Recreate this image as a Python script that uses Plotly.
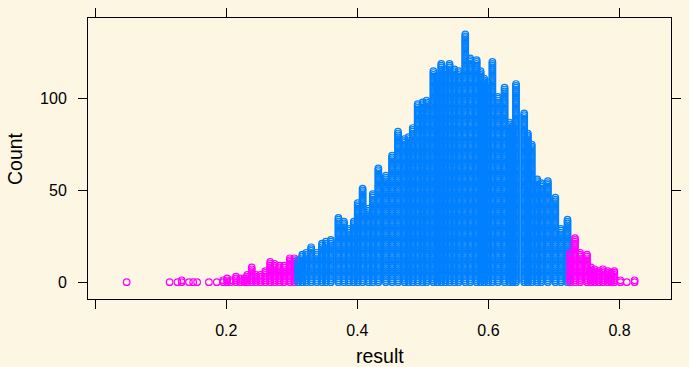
import plotly.graph_objects as go

# ---- data (distinct result values and their counts) ----
low_tail_values = [0.048, 0.1135, 0.1255, 0.132, 0.1431, 0.1495, 0.1555, 0.1735, 0.1855,
                   0.1953, 0.2013, 0.2065, 0.2148, 0.2215, 0.2275, 0.2320, 0.2388, 0.2451,
                   0.2520, 0.2595, 0.2670, 0.2736, 0.2811, 0.2880, 0.2970, 0.3040]
low_tail_counts = [1, 1, 1, 2, 1, 1, 1, 1, 1,
                   2, 3, 2, 4, 3, 3, 5, 9, 5,
                   5, 7, 12, 11, 10, 10, 14, 14]

middle_values = [0.3096, 0.3160, 0.3220, 0.3295, 0.3381, 0.3460, 0.3520, 0.3595, 0.3711,
                 0.3795, 0.3870, 0.3945, 0.4005, 0.4080, 0.4170, 0.4236, 0.4320, 0.4435,
                 0.4530, 0.4620, 0.4720, 0.4780, 0.4845, 0.4920, 0.4995, 0.5055, 0.5160,
                 0.5220, 0.5280, 0.5343, 0.5406, 0.5481, 0.5545, 0.5646, 0.5721, 0.5820,
                 0.5880, 0.5935, 0.5995, 0.6060, 0.6145, 0.6246, 0.6321, 0.6370, 0.6420,
                 0.6546, 0.6601, 0.6660, 0.6745, 0.6805, 0.6906, 0.7020, 0.7105, 0.7206]
middle_counts = [13, 16, 17, 20, 17, 22, 23, 24, 36,
                 34, 30, 34, 44, 52, 41, 49, 63, 59,
                 70, 83, 79, 80, 85, 98, 99, 100, 116,
                 113, 120, 117, 120, 117, 116, 136, 123, 122,
                 116, 112, 110, 121, 102, 107, 88, 86, 109,
                 93, 82, 76, 57, 55, 56, 47, 30, 35]

high_tail_values = [0.7248, 0.7320, 0.7398, 0.7503, 0.7563, 0.7620, 0.7683, 0.7746,
                    0.7821, 0.7870, 0.7920, 0.8013, 0.8110, 0.8230]
high_tail_counts = [17, 25, 17, 16, 9, 8, 7, 8, 7, 6, 7, 2, 1, 2]

x_tick_vals = [0.0, 0.2, 0.4, 0.6, 0.8]
x_tick_text = ["", "0.2", "0.4", "0.6", "0.8"]
y_tick_vals = [0, 50, 100]
y_tick_text = ["0", "50", "100"]

BLUE = "#0080ff"
MAGENTA = "#ff00ff"
BG = "#fdf6e3"
FONT = "Liberation Sans, Arial, sans-serif"


def stack(values, counts):
    xs, ys = [], []
    for v, c in zip(values, counts):
        for k in range(c):
            xs.append(v)
            ys.append(k)
    return xs, ys


fig = go.Figure()
for vals, cnts, col in [(low_tail_values, low_tail_counts, MAGENTA),
                        (middle_values, middle_counts, BLUE),
                        (high_tail_values, high_tail_counts, MAGENTA)]:
    xs, ys = stack(vals, cnts)
    fig.add_trace(go.Scatter(
        x=xs, y=ys, mode="markers",
        marker=dict(symbol="circle-open", size=6.6, color=col, line=dict(width=1.2, color=col)),
        showlegend=False, hoverinfo="skip"))

axis_common = dict(showline=True, linecolor="#000000", linewidth=1, mirror="allticks",
                   ticks="outside", ticklen=9, tickwidth=1, tickcolor="#000000",
                   showgrid=False, zeroline=False,
                   tickfont=dict(family=FONT, size=16, color="#000000"))

fig.update_layout(
    width=689, height=367, autosize=False,
    margin=dict(l=88, r=8, t=17, b=68, pad=0),
    paper_bgcolor=BG, plot_bgcolor=BG,
    xaxis=dict(range=[-0.011, 0.8785], tickmode="array", tickvals=x_tick_vals,
               ticktext=x_tick_text, ticklabelstandoff=8, **axis_common),
    yaxis=dict(range=[-9.2, 144], tickmode="array", tickvals=y_tick_vals,
               ticktext=y_tick_text, ticklabelstandoff=8, **axis_common),
    annotations=[
        dict(text="result", xref="paper", yref="paper", x=0.5, y=0, yshift=-57,
             showarrow=False, font=dict(family=FONT, size=19.5, color="#000000"),
             xanchor="center", yanchor="middle"),
        dict(text="Count", xref="paper", yref="paper", x=0, y=0.5, xshift=-73.5,
             showarrow=False, textangle=-90, font=dict(family=FONT, size=19.5, color="#000000"),
             xanchor="center", yanchor="middle"),
    ],
)

fig.write_html("out.html", config={"displayModeBar": False},
               post_script="document.body.style.margin='0';document.body.style.background='%s';" % BG)
